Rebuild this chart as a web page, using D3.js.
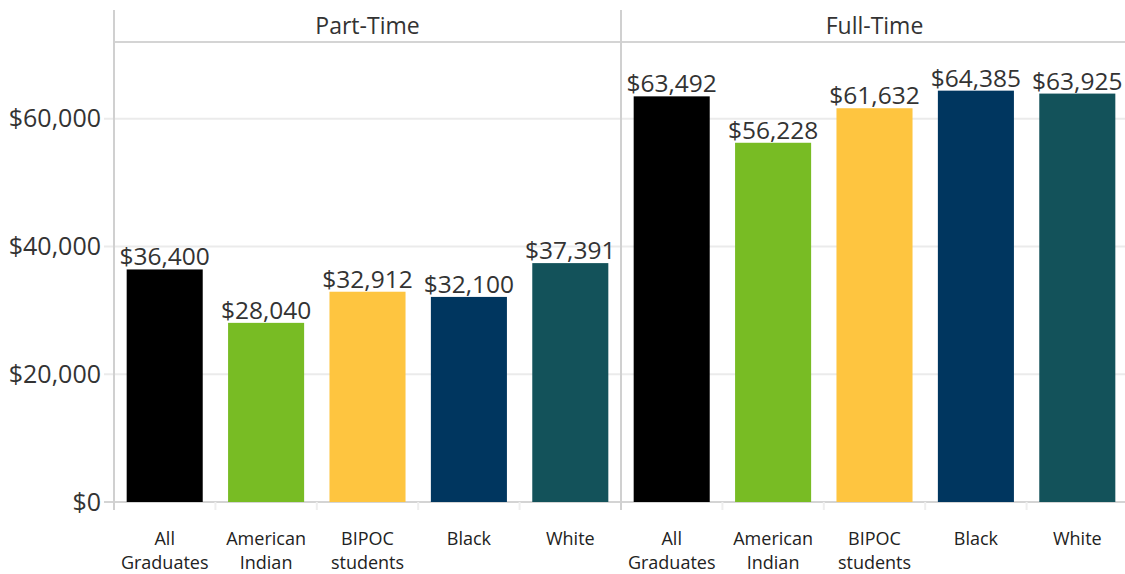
<!DOCTYPE html>
<html>
<head>
<meta charset="utf-8">
<script src="https://cdn.jsdelivr.net/npm/d3@7"></script>
<style>
  body { margin: 0; background: #fff; }
  svg { display: block; font-family: "Open Sans", sans-serif; }
</style>
</head>
<body>
<div id="chart"></div>
<script>
// data
const panels = ["Part-Time", "Full-Time"];
const categories = ["All Graduates", "American Indian", "BIPOC students", "Black", "White"];
const partTime = [36400, 28040, 32912, 32100, 37391];
const fullTime = [63492, 56228, 61632, 64385, 63925];
const yTicks = [0, 20000, 40000, 60000];
const barColors = ["#000000", "#78bc24", "#fec540", "#00365f", "#13525a"];

const width = 1125, height = 574;
const margin = { top: 42, left: 114, bottom: 72 };
const headerTop = 10;

const svg = d3.select("#chart")
  .append("svg")
  .attr("width", width)
  .attr("height", height);

// panel scale and category scale inside each panel
const px = d3.scaleBand().domain(panels).range([margin.left, 1128]).padding(0);
const x = d3.scaleBand().domain(categories).range([0, px.bandwidth()]).paddingInner(0.25).paddingOuter(0.125);
const y = d3.scaleLinear().domain([0, 72000]).range([height - margin.bottom, margin.top]);

const color = d3.scaleOrdinal().domain(categories).range(barColors);
const fmt = d3.format("$,");

// gridlines
svg.append("g")
  .selectAll("line")
  .data(yTicks.filter(d => d > 0))
  .join("line")
  .attr("x1", margin.left - 10)
  .attr("x2", width)
  .attr("y1", d => y(d))
  .attr("y2", d => y(d))
  .attr("stroke", "#ebebeb")
  .attr("stroke-width", 2);

// y axis labels
svg.append("g")
  .selectAll("text")
  .data(yTicks)
  .join("text")
  .attr("x", margin.left - 13)
  .attr("y", d => y(d))
  .attr("dy", "0.35em")
  .attr("text-anchor", "end")
  .attr("fill", "#333")
  .style("font-size", "25px")
  .text(d => fmt(d));

// header line
svg.append("line")
  .attr("x1", margin.left).attr("x2", width)
  .attr("y1", margin.top).attr("y2", margin.top)
  .attr("stroke", "#d4d4d4").attr("stroke-width", 2);

// baseline
svg.append("line")
  .attr("x1", margin.left - 10).attr("x2", width)
  .attr("y1", y(0)).attr("y2", y(0))
  .attr("stroke", "#d4d4d4").attr("stroke-width", 2);

// vertical axis + panel divider
svg.append("g")
  .selectAll("line")
  .data(panels)
  .join("line")
  .attr("x1", d => px(d))
  .attr("x2", d => px(d))
  .attr("y1", headerTop)
  .attr("y2", y(0) + 8)
  .attr("stroke", "#d0d0d0")
  .attr("stroke-width", 2);

const data = { "Part-Time": partTime, "Full-Time": fullTime };

const panel = svg.selectAll(".panel")
  .data(panels)
  .join("g")
  .attr("class", "panel")
  .attr("transform", d => `translate(${px(d)},0)`);

// panel titles
panel.append("text")
  .attr("x", px.bandwidth() / 2)
  .attr("y", 34)
  .attr("text-anchor", "middle")
  .attr("fill", "#333")
  .style("font-size", "23px")
  .text(d => d);

// category tick marks below baseline
panel.append("g")
  .selectAll("line")
  .data(categories.slice(1))
  .join("line")
  .attr("x1", d => x(d) - x.step() * x.paddingInner() / 2)
  .attr("x2", d => x(d) - x.step() * x.paddingInner() / 2)
  .attr("y1", y(0))
  .attr("y2", y(0) + 8)
  .attr("stroke", "#eeeeee")
  .attr("stroke-width", 2);

// bars
panel.append("g")
  .selectAll("rect")
  .data(p => categories.map((c, i) => ({ cat: c, value: data[p][i] })))
  .join("rect")
  .attr("x", d => x(d.cat))
  .attr("width", x.bandwidth())
  .attr("y", d => y(d.value))
  .attr("height", d => y(0) - y(d.value))
  .attr("fill", d => color(d.cat));

// value labels
panel.append("g")
  .selectAll("text")
  .data(p => categories.map((c, i) => ({ cat: c, value: data[p][i] })))
  .join("text")
  .attr("x", d => x(d.cat) + x.bandwidth() / 2)
  .attr("y", d => y(d.value) - 4)
  .attr("text-anchor", "middle")
  .attr("fill", "#333")
  .style("font-size", "24.5px")
  .text(d => fmt(d.value));

// category labels
panel.append("g")
  .selectAll("text")
  .data(categories)
  .join("text")
  .attr("x", d => x(d) + x.bandwidth() / 2)
  .attr("y", 545)
  .attr("text-anchor", "middle")
  .attr("fill", "#222")
  .style("font-size", "18px")
  .selectAll("tspan")
  .data(d => d.split(" "))
  .join("tspan")
  .attr("x", function () { return d3.select(this.parentNode).attr("x"); })
  .attr("dy", (d, i) => i === 0 ? 0 : 24)
  .text(d => d);
</script>
</body>
</html>
